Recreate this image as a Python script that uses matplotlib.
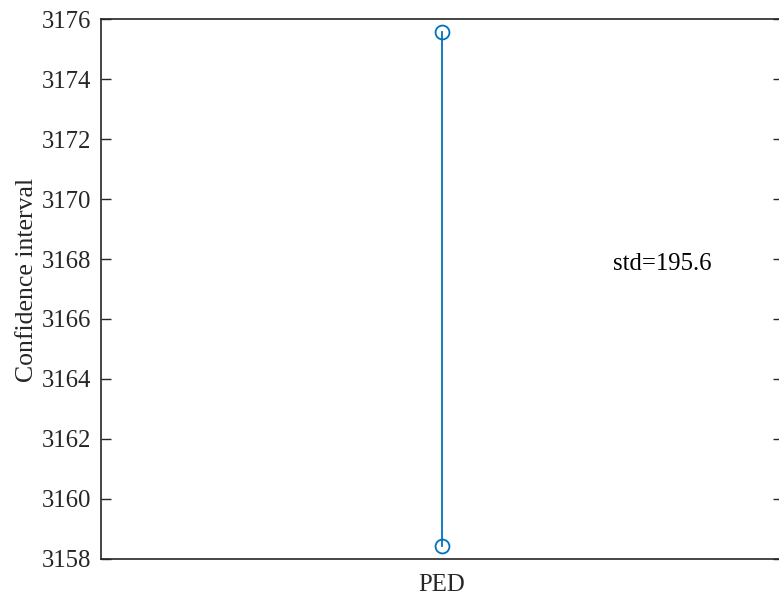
import matplotlib
matplotlib.use('Agg')
import matplotlib.pyplot as plt

# data: 95% confidence interval of PED
categories = ['PED']
ci_low = [3158.42]
ci_high = [3175.58]
std_text = 'std=195.6'
yticks = [3158, 3160, 3162, 3164, 3166, 3168, 3170, 3172, 3174, 3176]

plt.rcParams['font.family'] = ['Liberation Serif', 'DejaVu Serif']
plt.rcParams['font.size'] = 17.8

W, H = 779, 596
fig = plt.figure(figsize=(W/100, H/100), dpi=100)
# axes box, right spine falls just outside the picture
left, right, top, bottom = 101, 783, 19.3, 558.7
ax = fig.add_axes([left/W, 1 - bottom/H, (right-left)/W, (bottom-top)/H])

blue = '#0072BD'
for i, cat in enumerate(categories):
    x = i + 1
    ax.plot([x, x], [ci_low[i], ci_high[i]], '-o', color=blue, lw=1.3,
            ms=10, mfc='none', mew=1.3, clip_on=False)

ax.text(1.25, 3167.82, std_text, ha='left', va='center', color='#000000')

ax.set_xlim(0.5, 1.5)
ax.set_ylim(3158, 3176)
ax.set_xticks([1])
ax.set_xticklabels(categories)
ax.set_yticks(yticks)
ax.set_ylabel('Confidence interval', color='#262626', fontsize=18.5)
ax.yaxis.set_label_coords(-0.093, 0.517)

ax.tick_params(axis='y', direction='in', length=7, width=1, colors='#262626',
               right=True, labelcolor='#262626', pad=7)
ax.tick_params(axis='x', length=0, pad=11, labelcolor='#262626')
for s in ax.spines.values():
    s.set_color('#262626')
    s.set_linewidth(1.2)

fig.savefig('out.png', dpi=100)
